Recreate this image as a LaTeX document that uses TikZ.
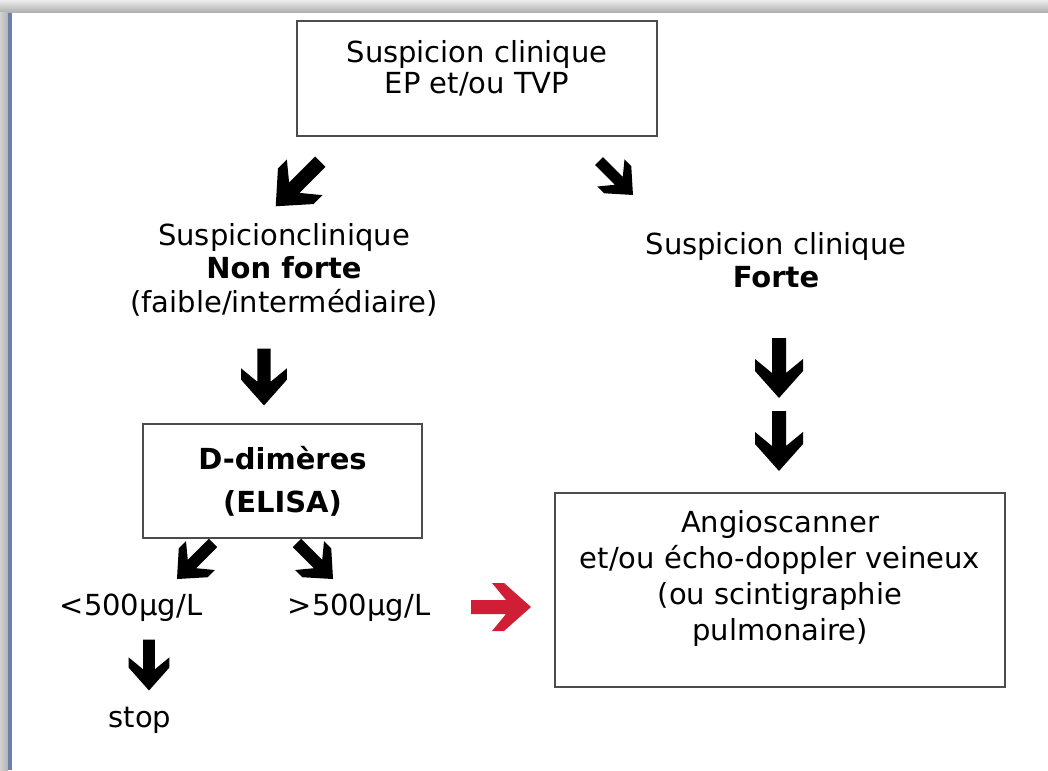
\documentclass[tikz,border=0pt]{standalone}
\usepackage{fontspec}
\setmainfont{DejaVu Sans}
\usetikzlibrary{calc}
\definecolor{frameblue}{HTML}{6F80A8}
\definecolor{arrowred}{HTML}{D01E37}
\def\blockarrow[#1](#2)(#3:#4){\fill[#1,shift={(#2)},rotate=#3,scale=#4] (-7,-30) -- (7,-30) -- (7,5) -- (24,-9) -- (24,3) -- (0,30) -- (-24,3) -- (-24,-9) -- (-7,5) -- cycle;}
\tikzset{
	box/.style={draw=black!70, line width=2.5pt, align=center, inner sep=0pt},
	txt/.style={align=center, inner sep=0pt}
}

\begin{document}
\begin{tikzpicture}[x=1pt, y=-1pt, font=\fontsize{29}{34}\selectfont]
			%%%%% START %%%%%
			\useasboundingbox (0,0) rectangle (1048,770);
			
			% frame
			\shade[top color=gray!15, bottom color=gray!65] (0,0) rectangle (1048,13);
			\shade[left color=gray!35, right color=gray!60] (0,13) rectangle (8,770);
			\fill[frameblue] (8,13) rectangle (12,770);
			
			% boxes and texts
			\node[box, minimum width=360pt, minimum height=115pt, font=\fontsize{29}{31}\selectfont] (clinique) at (477,78.5) {Suspicion clinique\\EP et/ou TVP\rule[-24pt]{0pt}{24pt}};
			
			\node[txt, font=\fontsize{29}{33.5}\selectfont] (nonforte) at (284,269.5) {Suspicionclinique\\\textbf{Non forte}\\(faible/intermédiaire)};
			\node[txt, font=\fontsize{29}{33}\selectfont] (forte) at (776,260.5) {Suspicion clinique\\\textbf{Forte}};
			
			\node[box, minimum width=279pt, minimum height=114pt, font=\bfseries\fontsize{29}{43}\selectfont] (ddimeres) at (282.5,481) {D-dimères\\(ELISA)};
			
			\node[txt, anchor=base] (inf) at (131,615) {<500µg/L};
			\node[txt, anchor=base] (sup) at (359,615) {>500µg/L};
			\node[txt, anchor=base] (stop) at (140,727) {stop};
			
			\node[box, minimum width=450pt, minimum height=194pt, font=\fontsize{29}{36}\selectfont] (angio) at (780,590) {Angioscanner\\et/ou écho-doppler veineux\\(ou scintigraphie\\pulmonaire)\rule[-29pt]{0pt}{29pt}};
			
			% arrows
			\blockarrow[black](298,184)(-45:1.05)
			\blockarrow[black](616,178)(45:0.8)
			\blockarrow[black](264,377)(0:0.95)
			\blockarrow[black](195,561)(-45:0.85)
			\blockarrow[black](315,561)(45:0.85)
			\blockarrow[black](149,665)(0:0.85)
			\blockarrow[black](779,368)(0:1)
			\blockarrow[black](779,441)(0:1)
			\blockarrow[arrowred](501,607)(90:1)
			
			%%%%% END %%%%%
\end{tikzpicture}
\end{document}
